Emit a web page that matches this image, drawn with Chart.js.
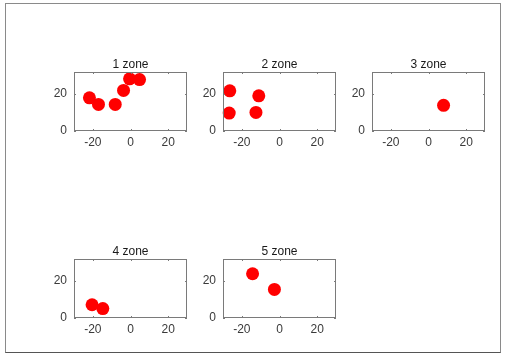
<!DOCTYPE html>
<html>
<head>
<meta charset="utf-8">
<script src="https://cdn.jsdelivr.net/npm/chart.js@4/dist/chart.umd.min.js"></script>
<style>
  html, body { margin: 0; padding: 0; background: #fff; }
  body { width: 509px; height: 360px; position: relative; overflow: hidden; }
  #frame { position: absolute; left: 5px; top: 3px; width: 494px; height: 348px;
           border: 1px solid #8a8a8a; border-bottom-color: #555; box-sizing: content-box; }
  canvas { position: absolute; }
</style>
</head>
<body>
<div id="frame"></div>
<script>
// ---- data ----
const zoneTitles = ['1 zone', '2 zone', '3 zone', '4 zone', '5 zone'];
const zone1X = [-21.8, -17.0, -8.1, -3.7, -0.5, 4.8];
const zone1Y = [18.0, 14.4, 14.4, 22.0, 28.3, 27.9];
const zone2X = [-26.4, -26.7, -12.5, -11.0];
const zone2Y = [21.8, 9.7, 10.1, 19.1];
const zone3X = [8.0];
const zone3Y = [13.9];
const zone4X = [-20.4, -14.7];
const zone4Y = [7.2, 5.1];
const zone5X = [-14.3, -2.7];
const zone5Y = [24.0, 15.5];
const xTicks = [-20, 0, 20];
const yTicks = [0, 20];
const xRange = [-30, 30];
const yRange = [0, 32];

const zonesX = [zone1X, zone2X, zone3X, zone4X, zone5X];
const zonesY = [zone1Y, zone2Y, zone3Y, zone4Y, zone5Y];

// ---- layout (plot box positions in the page) ----
const boxes = [
  { l: 74,  t: 72 },
  { l: 223, t: 72 },
  { l: 372, t: 72 },
  { l: 74,  t: 259 },
  { l: 223, t: 259 }
];
const BOX_W = 113, BOX_H = 59;
const PAD_L = 40, PAD_T = 28, PAD_R = 12, PAD_B = 22;
const FONT = '"Liberation Sans", Arial, sans-serif';

const boxPlugin = {
  id: 'matlabBox',
  afterDraw(chart) {
    const ctx = chart.ctx;
    const a = chart.chartArea;
    const xs = chart.scales.x, ys = chart.scales.y;
    ctx.save();
    ctx.strokeStyle = '#7a7a7a';
    ctx.lineWidth = 1;
    ctx.strokeRect(Math.round(a.left) + 0.5, Math.round(a.top) + 0.5,
                   Math.round(a.right - a.left) - 1, Math.round(a.bottom - a.top) - 1);
    ctx.beginPath();
    xTicks.forEach(v => {
      const px = Math.round(xs.getPixelForValue(v)) + 0.5;
      ctx.moveTo(px, a.bottom); ctx.lineTo(px, a.bottom - 2);
      ctx.moveTo(px, a.top); ctx.lineTo(px, a.top + 2);
    });
    yTicks.forEach(v => {
      const py = Math.round(ys.getPixelForValue(v)) + 0.5;
      ctx.moveTo(a.left, py); ctx.lineTo(a.left + 2, py);
      ctx.moveTo(a.right, py); ctx.lineTo(a.right - 2, py);
    });
    ctx.stroke();
    // title
    ctx.fillStyle = '#1a1a1a';
    ctx.font = '12px ' + FONT;
    ctx.textAlign = 'center';
    ctx.textBaseline = 'alphabetic';
    ctx.fillText(chart.options.plugins.matlabBox.title, (a.left + a.right) / 2, a.top - 4);
    ctx.restore();
  }
};

zoneTitles.forEach((title, i) => {
  const b = boxes[i];
  const cv = document.createElement('canvas');
  const w = PAD_L + BOX_W + PAD_R, h = PAD_T + BOX_H + PAD_B;
  cv.width = w; cv.height = h;
  cv.style.left = (b.l - PAD_L) + 'px';
  cv.style.top = (b.t - PAD_T) + 'px';
  cv.style.width = w + 'px'; cv.style.height = h + 'px';
  document.body.appendChild(cv);

  const pts = zonesX[i].map((x, k) => ({ x: x, y: zonesY[i][k] }));
  new Chart(cv.getContext('2d'), {
    type: 'scatter',
    data: {
      datasets: [{
        data: pts,
        backgroundColor: '#ff0000',
        borderWidth: 0,
        pointRadius: 6.5,
        pointHoverRadius: 6.5,
        clip: false
      }]
    },
    options: {
      responsive: false,
      animation: false,
      events: [],
      layout: { padding: { top: PAD_T, right: PAD_R, left: 0, bottom: 0 } },
      plugins: { legend: { display: false }, tooltip: { enabled: false }, matlabBox: { title: title } },
      scales: {
        x: {
          type: 'linear', min: xRange[0], max: xRange[1],
          grid: { display: false, drawTicks: false }, border: { display: false },
          afterBuildTicks: s => { s.ticks = xTicks.map(v => ({ value: v })); },
          afterFit: s => { s.height = PAD_B; },
          ticks: { color: '#3a3a3a', padding: 4, maxRotation: 0,
                   font: { family: FONT, size: 12 } }
        },
        y: {
          type: 'linear', min: yRange[0], max: yRange[1],
          grid: { display: false, drawTicks: false }, border: { display: false },
          afterBuildTicks: s => { s.ticks = yTicks.map(v => ({ value: v })); },
          afterFit: s => { s.width = PAD_L; },
          ticks: { color: '#3a3a3a', padding: 7,
                   font: { family: FONT, size: 12 } }
        }
      }
    },
    plugins: [boxPlugin]
  });
});
</script>
</body>
</html>
